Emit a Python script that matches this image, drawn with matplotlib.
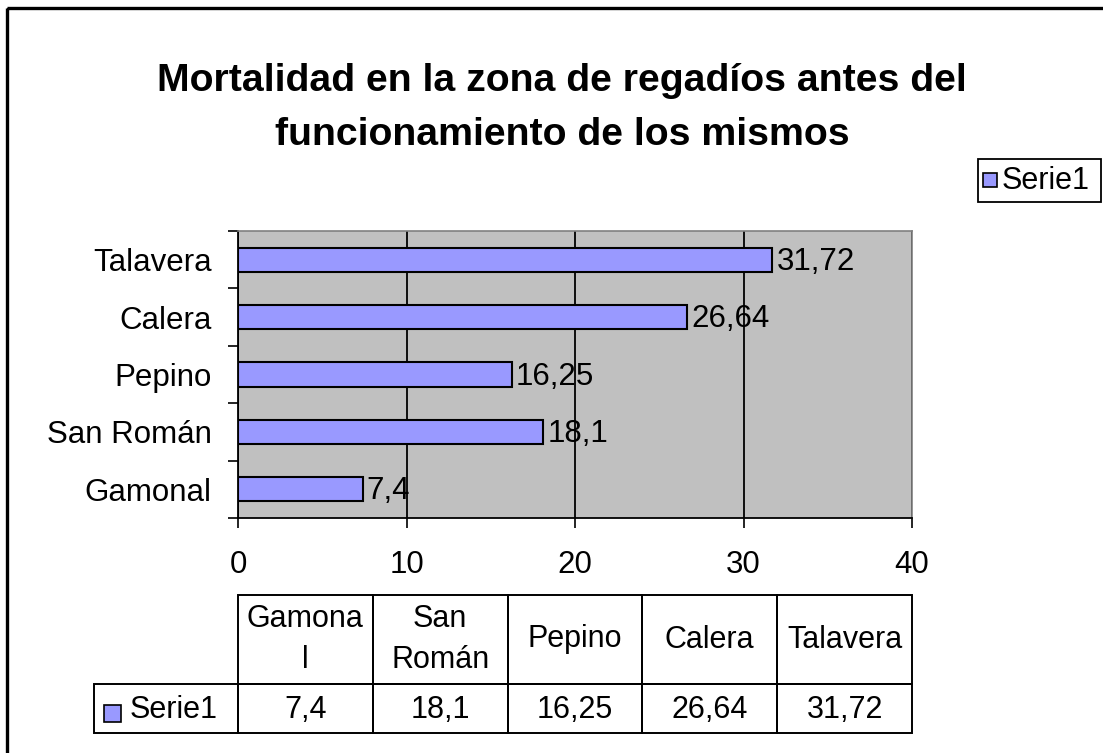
import matplotlib
matplotlib.use('Agg')
import matplotlib.pyplot as plt
from matplotlib.patches import Rectangle

categories = ['Gamonal', 'San Román', 'Pepino', 'Calera', 'Talavera']
values = [7.4, 18.1, 16.25, 26.64, 31.72]
value_labels = ['7,4', '18,1', '16,25', '26,64', '31,72']
table_headers = ['Gamona\nl', 'San\nRomán', 'Pepino', 'Calera', 'Talavera']
x_ticks = [0, 10, 20, 30, 40]
series_name = 'Serie1'
title = 'Mortalidad en la zona de regadíos antes del\nfuncionamiento de los mismos'

BAR = '#9999FF'
FS = 22.5
W, H = 1103, 753
plt.rcParams['font.family'] = ['Liberation Sans', 'DejaVu Sans']
fig = plt.figure(figsize=(W / 100, H / 100), dpi=100)
fig.patch.set_facecolor('white')

bg = fig.add_axes([0, 0, 1, 1])
bg.set_xlim(0, W)
bg.set_ylim(H, 0)
bg.axis('off')

# outer chart border (cropped on right/bottom)
bg.add_patch(Rectangle((7, 8), W + 20, H + 20, fill=False, edgecolor='black', linewidth=2.4))

# title
bg.text(562, 108, title, ha='center', va='center', fontsize=28.3, fontweight='bold', linespacing=1.62)

# plot area
L, R, T, B = 238, 912, 231, 518
ax = fig.add_axes([L / W, 1 - B / H, (R - L) / W, (B - T) / H])
ax.set_facecolor('#C0C0C0')
ypos = list(range(len(categories)))
ax.barh(ypos, values, height=0.42, color=BAR, edgecolor='black', linewidth=1.5, zorder=3)
ax.set_xlim(x_ticks[0], x_ticks[-1])
ax.set_ylim(-0.5, len(categories) - 0.5)
ax.set_xticks(x_ticks)
ax.set_xticklabels([str(t) for t in x_ticks], fontsize=FS)
ax.tick_params(axis='x', length=7, width=1.2, direction='out', pad=16)
ax.set_yticks([i - 0.5 for i in range(len(categories) + 1)])
ax.set_yticklabels([])
ax.set_yticks(ypos, minor=True)
ax.set_yticklabels(categories, minor=True, fontsize=FS)
ax.tick_params(axis='y', which='major', length=7, width=1.2, direction='out')
ax.tick_params(axis='y', which='minor', length=0, pad=19)
ax.xaxis.grid(True, color='black', linewidth=1.3)
ax.set_axisbelow(True)
for s in ['top', 'right']:
    ax.spines[s].set_color('#808080')
    ax.spines[s].set_linewidth(1.2)
for s in ['left', 'bottom']:
    ax.spines[s].set_color('black')
    ax.spines[s].set_linewidth(1.3)
for yi, v, lab in zip(ypos, values, value_labels):
    ax.annotate(lab, (v, yi), xytext=(3, -1.5), textcoords='offset points',
                va='center', ha='left', fontsize=FS, zorder=4)

# legend box
bg.add_patch(Rectangle((978, 159), 123, 43, fill=True, facecolor='white', edgecolor='black', linewidth=1.3))
bg.add_patch(Rectangle((983, 173), 14, 14, facecolor=BAR, edgecolor='black', linewidth=1.2))
bg.text(1002, 181, series_name, ha='left', va='center', fontsize=22)

# data table
n = len(categories)
colw = (R - L) / n
t_top, t_mid, t_bot = 595, 684, 733
lw = 1.4
for i, (hdr, lab) in enumerate(zip(table_headers, value_labels)):
    x0 = L + i * colw
    bg.add_patch(Rectangle((x0, t_top), colw, t_mid - t_top, fill=False, edgecolor='black', linewidth=lw))
    bg.add_patch(Rectangle((x0, t_mid), colw, t_bot - t_mid, fill=False, edgecolor='black', linewidth=lw))
    bg.text(x0 + colw / 2, (t_top + t_mid) / 2, hdr, ha='center', va='center', fontsize=22, linespacing=1.45)
    bg.text(x0 + colw / 2, (t_mid + t_bot) / 2 + 1, lab, ha='center', va='center', fontsize=22)
bg.add_patch(Rectangle((94, t_mid), L - 94, t_bot - t_mid, fill=False, edgecolor='black', linewidth=lw))
bg.add_patch(Rectangle((104, 705), 17, 17, facecolor=BAR, edgecolor='black', linewidth=1.2))
bg.text(130, (t_mid + t_bot) / 2 + 1, series_name, ha='left', va='center', fontsize=22)

fig.savefig('out.png', dpi=100)
